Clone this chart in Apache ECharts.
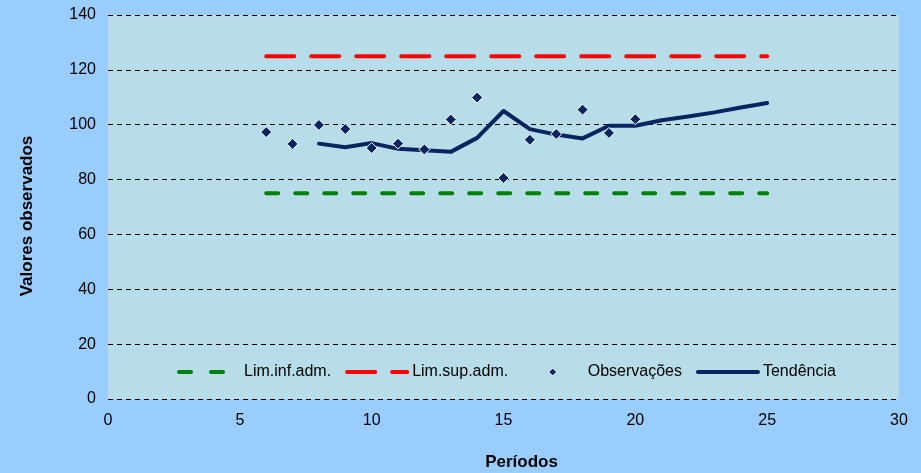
<!DOCTYPE html>
<html>
<head>
<meta charset="utf-8">
<script src="https://cdn.jsdelivr.net/npm/echarts@6/dist/echarts.min.js"></script>
<style>
  html, body { margin: 0; padding: 0; background: #99CCFF; }
  #chart { width: 921px; height: 473px; }
</style>
</head>
<body>
<div id="chart"></div>
<script>
// períodos das observações e da tendência
const obsPeriods = [6, 7, 8, 9, 10, 11, 12, 13, 14, 15, 16, 17, 18, 19, 20];
const obsValues = [97.3, 93.0, 99.9, 98.4, 91.5, 93.1, 91.0, 101.9, 109.9, 80.6, 94.5, 96.6, 105.5, 97.0, 102.0];
const trendPeriods = [8, 9, 10, 11, 12, 13, 14, 15, 16, 17, 18, 19, 20, 21, 22, 23, 24, 25];
const trendValues = [93.1, 91.8, 93.3, 91.2, 90.7, 90.1, 95.2, 105.0, 98.4, 96.4, 95.0, 99.6, 99.6, 101.6, 103.0, 104.5, 106.3, 107.9];
// limites administrativos (início e fim)
const limPeriods = [6, 25];
const limInf = [75, 75];
const limSup = [125, 125];

const pairs = (xs, ys) => xs.map((x, i) => [x, ys[i]]);

const font = 'Liberation Sans, Arial, sans-serif';
const navy = '#0A2460';
// losango pequeno centrado numa caixa 60x8 (para não esticar na legenda)
const diamondIcon = 'path://M0,0M60,8M30,0L34,4L30,8L26,4Z';
const chart = echarts.init(document.getElementById('chart'));

const option = {
  backgroundColor: '#99CCFF',
  animation: false,
  textStyle: { fontFamily: font },
  grid: {
    left: 108, right: 22, top: 15, bottom: 74,
    outerBoundsMode: 'none',
    show: true, backgroundColor: '#B6DDE8', borderWidth: 0
  },
  legend: {
    left: 177, top: 364, padding: 0,
    itemWidth: 60, itemHeight: 8, itemGap: 14,
    textStyle: { fontFamily: font, fontSize: 16, color: '#000' },
    data: [
      {
        name: 'Lim.inf.adm.', itemStyle: { opacity: 0 },
        lineStyle: { color: '#008000', width: 4, type: [12, 20], cap: 'round' }
      },
      {
        name: 'Lim.sup.adm.', itemStyle: { opacity: 0 },
        lineStyle: { color: '#FF0000', width: 4, type: [28, 17], cap: 'round' }
      },
      {
        name: 'Observações', icon: diamondIcon,
        itemStyle: { color: navy, borderColor: '#fff', borderWidth: 1 }
      },
      {
        name: 'Tendência', itemStyle: { opacity: 0 },
        lineStyle: { color: navy, width: 4, cap: 'round' }
      }
    ]
  },
  xAxis: {
    type: 'value', min: 0, max: 30, interval: 5,
    name: 'Períodos', nameLocation: 'middle', nameGap: 55,
    nameTextStyle: { fontFamily: font, fontSize: 17, fontWeight: 'bold', color: '#000', padding: [0, 0, 0, 36] },
    axisLine: { show: false }, axisTick: { show: false }, splitLine: { show: false },
    axisLabel: { fontFamily: font, fontSize: 16, color: '#000', margin: 14 }
  },
  yAxis: {
    type: 'value', min: 0, max: 140, interval: 20,
    name: 'Valores observados', nameLocation: 'middle', nameGap: 72,
    nameTextStyle: { fontFamily: font, fontSize: 17, fontWeight: 'bold', color: '#000', padding: [0, 18, 0, 0] },
    axisLine: { show: false }, axisTick: { show: false },
    axisLabel: { fontFamily: font, fontSize: 16, color: '#000', margin: 12 },
    splitLine: { show: true, lineStyle: { color: '#000', width: 1, type: [5, 4] } }
  },
  series: [
    {
      name: 'Lim.inf.adm.', type: 'line', symbol: 'none',
      data: pairs(limPeriods, limInf),
      lineStyle: { color: '#008000', width: 4, type: [12, 17], cap: 'round' },
      itemStyle: { color: '#008000' }, z: 2
    },
    {
      name: 'Lim.sup.adm.', type: 'line', symbol: 'none',
      data: pairs(limPeriods, limSup),
      lineStyle: { color: '#FF0000', width: 4, type: [28, 17], cap: 'round' },
      itemStyle: { color: '#FF0000' }, z: 2
    },
    {
      name: 'Observações', type: 'scatter', symbol: 'diamond', symbolSize: 11,
      data: pairs(obsPeriods, obsValues),
      itemStyle: { color: navy, borderColor: '#fff', borderWidth: 1, opacity: 1 }, z: 4
    },
    {
      name: 'Tendência', type: 'line', symbol: 'none',
      data: pairs(trendPeriods, trendValues),
      lineStyle: { color: navy, width: 4, cap: 'round', join: 'round' },
      itemStyle: { color: navy }, z: 3
    }
  ]
};

chart.setOption(option);
</script>
</body>
</html>
